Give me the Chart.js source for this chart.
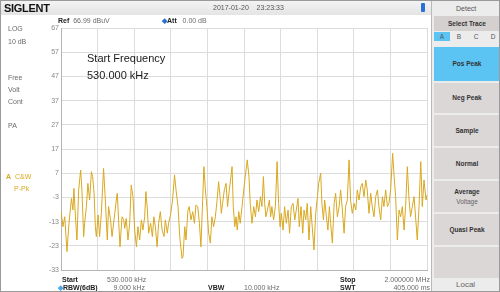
<!DOCTYPE html>
<html>
<head>
<meta charset="utf-8">
<script src="https://cdn.jsdelivr.net/npm/chart.js@4/dist/chart.umd.min.js"></script>
<style>
  body { margin: 0; background: #fff; font-family: "Liberation Sans", Arial, sans-serif; }
  #screen { position: relative; width: 498px; height: 290px; border: 1px solid #9a9a9a; overflow: hidden; background: #fff; }
  #screen canvas { position: absolute; left: -1px; top: -1px; }
  .t { position: absolute; font-size: 7px; color: #6b6b6b; white-space: nowrap; line-height: 8px; }
  .b { font-weight: bold; color: #222; }
  .r { text-align: right; }
  #topbar { position: absolute; left: 0; top: 0; width: 430px; height: 14px; background: linear-gradient(#f3f3f3, #e4e4e4); }
  #logo { position: absolute; left: 3px; top: 1px; font: bold 11px "Liberation Sans", Arial, sans-serif; color: #111; letter-spacing: -0.3px; }
  #usb { position: absolute; left: 420px; top: 2px; width: 4px; height: 9px; background: #2a6fd6; border-radius: 1px; }
  #panel { position: absolute; left: 430px; top: 0; width: 68px; height: 290px; background: #ececec; border-left: 1px solid #b8b8b8; }
  .btn { position: absolute; left: 2px; width: 66px; background: #dcd7d7; font-size: 6.5px; font-weight: bold; color: #333; text-align: center; }
  .cell { position: absolute; top: 31px; width: 16px; height: 9px; font-size: 6.5px; color: #555; text-align: center; line-height: 9px; }
  .big { position: absolute; font-size: 11px; color: #1a1a1a; white-space: nowrap; }
</style>
</head>
<body>
<div id="screen">
  <canvas id="trace" width="500" height="292"></canvas>

  <div id="topbar"></div>
  <div id="logo">SIGLENT</div>
  <div class="t" style="left:212px;top:3px;color:#555;">2017-01-20&nbsp;&nbsp;&nbsp;&nbsp;23:23:33</div>
  <div id="usb"></div>

  <div class="t" style="left:57px;top:16px;"><span class="b">Ref</span>&nbsp; 66.99 dBuV</div>
  <div class="t" style="left:161px;top:16px;"><span class="b" style="color:#2a6fd6">&#9670;</span><span class="b">Att</span>&nbsp;&nbsp; 0.00 dB</div>

  <div class="t" style="left:7px;top:24px;">LOG</div>
  <div class="t" style="left:7px;top:37px;">10 dB</div>
  <div class="t" style="left:7px;top:73px;">Free</div>
  <div class="t" style="left:7px;top:85px;">Volt</div>
  <div class="t" style="left:7px;top:97px;">Cont</div>
  <div class="t" style="left:7px;top:121px;">PA</div>
  <div class="t" style="left:5px;top:172px;color:#d9a81f;"><b>A</b>&nbsp; C&amp;W</div>
  <div class="t" style="left:13px;top:184px;color:#d9a81f;">P-Pk</div>

  <div class="big" style="left:86px;top:51px;">Start Frequency</div>
  <div class="big" style="left:86px;top:68px;">530.000 kHz</div>

  <div class="t b" style="left:61px;top:275px;">Start</div>
  <div class="t" style="left:106px;top:275px;">530.000 kHz</div>
  <div class="t b" style="left:57px;top:283px;"><span style="color:#4aa8e8">&#9670;</span>RBW(6dB)</div>
  <div class="t r" style="left:100px;width:44px;top:283px;">9.000 kHz</div>
  <div class="t b" style="left:207px;top:283px;">VBW</div>
  <div class="t" style="left:243px;top:283px;">10.000 kHz</div>
  <div class="t b" style="left:339px;top:275px;">Stop</div>
  <div class="t r" style="left:370px;width:59px;top:275px;">2.000000 MHz</div>
  <div class="t b" style="left:339px;top:283px;">SWT</div>
  <div class="t r" style="left:370px;width:59px;top:283px;">405.000 ms</div>

  <div id="panel">
    <div class="t" style="left:24px;top:4px;color:#555;">Detect</div>
    <div class="btn" style="top:15px;height:15px;line-height:15px;background:#d4d0d0;">Select Trace</div>
    <div class="cell" style="left:2px;background:#5cc4f2;">A</div>
    <div class="cell" style="left:19px;">B</div>
    <div class="cell" style="left:36px;">C</div>
    <div class="cell" style="left:53px;">D</div>
    <div class="btn" style="top:46px;height:34px;line-height:34px;background:#5cc4f2;">Pos Peak</div>
    <div class="btn" style="top:82px;height:30px;line-height:30px;">Neg Peak</div>
    <div class="btn" style="top:114px;height:31px;line-height:31px;">Sample</div>
    <div class="btn" style="top:147px;height:31px;line-height:31px;">Normal</div>
    <div class="btn" style="top:180px;height:31px;"><div style="margin-top:7px;">Average</div><div style="font-weight:normal;color:#666;margin-top:3px;">Voltage</div></div>
    <div class="btn" style="top:213px;height:31px;line-height:31px;">Quasi Peak</div>
    <div class="btn" style="top:246px;height:31px;"></div>
    <div class="t" style="left:24px;top:279px;font-size:8px;line-height:10px;color:#666;">Local</div>
  </div>
</div>

<script>
// trace values (kHz / dBuV)
const freqKHz = [
  530,538,545,554,562,572,578,582,588,594, 601,609,614,621,625,632,638,645,652,657,
  663,668,672,679,685,692,701,708,716,721, 729,735,746,752,756,762,767,775,782,786,
  792,799,806,812,819,826,833,839,846,853, 859,866,871,877,882,890,897,903,909,916,
  922,929,936,944,949,957,962,970,978,986, 992,1000,1007,1016,
  1020,1027,1032,1040,1045,1052,1059,1066,1072,1079, 1086,1092,1099,1104,1110,1116,1123,1130,1136,1143,
  1150,1157,1163,1169,1174,1179,1186,1193,1199,1206, 1211,1217,1222,1228,1233,1238,1244,1250,1257,1264,
  1270,1278,1285,1290,1297,1304,1311,1317,1324,1331, 1337,1343,1348,1353,1359,1367,1372,1377,1384,1391,
  1398,1404,1410,1415,1422,1428,1435,1442,1448,1455, 1462,1469,1475,1482,1487,1494,1501,1506,
  1513,1519,1526,1533,1539,1546,1553,1560,1565,1573, 1578,1584,1589,1596,1602,1608,1613,1620,1627,1633,
  1640,1647,1653,1660,1667,1673,1680,1687,1693,1700, 1707,1714,1720,1727,1734,1740,1747,1754,1760,1767,
  1774,1780,1787,1794,1801,1807,1814,1821,1827,1834, 1841,1847,1854,1862,1868,1874,1881,1888,1894,1901,
  1908,1914,1921,1928,1934,1941,1948,1955,1961,1968, 1975,1981,1988,1996,2000
];
const levelDbuv = [
  -8.9,-15.1,-11.0,-25.4,-13.7,-3.4,-8.2,0.7,-11.0,-20.6, 0.1,8.3,0.1,-19.2,-13.7,-6.8,2.8,-4.1,7.6,5.6,
  -1.3,-15.1,-19.2,-10.3,-19.2,-9.6,9.0,-4.1,-20.6,-6.8, -12.3,-19.2,-9.6,-4.1,-1.3,-13.7,-23.4,-11.0,-12.3,-15.8,
  -11.7,-20.6,-13.7,2.1,-2.7,-16.5,-23.4,-15.1,-20.6,-12.3, -16.5,-11.0,-0.6,-8.2,-17.8,-13.7,-19.2,-11.0,-15.1,-23.4,
  -13.7,-8.9,-16.5,-19.2,-12.3,-17.8,-13.7,-10.3,-4.1,6.3, 0.1,-6.8,-19.2,-28.2,
  -27.5,-15.1,-20.6,-8.2,-6.8,-12.3,-8.9,-13.7,-6.1,-6.8, -13.7,-23.4,-4.1,9.7,0.1,-6.8,-17.8,-21.9,-11.0,-15.1,
  -11.0,-4.1,3.5,-2.7,-9.6,-5.5,0.1,2.8,-6.8,0.1, 4.2,9.7,-6.8,-15.1,-11.0,-16.5,-8.9,-13.7,-6.8,0.1,
  5.6,12.5,5.6,-5.5,-13.7,-6.8,-11.0,-4.1,-8.9,-2.7, -6.8,5.6,-5.5,-11.0,-8.2,-4.1,-11.0,-6.8,-12.3,-6.8,
  11.8,-5.5,-15.1,-9.6,-16.5,-6.8,-13.7,-8.2,-17.8,-6.8, -5.5,-12.3,-8.2,-3.4,-15.1,-6.8,-17.8,-8.2,
  -12.3,-5.5,-20.6,-6.8,-15.1,-24.7,-9.6,-2.7,2.8,7.0, -5.5,-12.3,-4.1,-11.0,-16.5,-6.8,-13.7,-21.9,-5.5,-1.3,
  -11.0,-6.8,0.1,-8.2,-17.8,-6.8,-4.1,12.5,-4.1,-9.6, -5.5,-8.2,0.1,-4.1,1.4,2.8,-2.7,4.2,0.1,-9.6,
  -1.3,-6.8,-11.0,-2.7,0.1,-6.8,-12.3,-2.7,-6.8,0.1, -6.8,-5.5,0.1,15.2,5.6,-2.7,-20.6,-8.2,-11.0,-6.8,
  -16.5,-6.8,9.7,-4.1,-11.0,-6.8,-2.7,-12.3,-20.6,-6.8, 11.8,-6.8,4.2,-4.1,-2.0
];
const yTicks = [67, 57, 47, 37, 27, 17, 7, -3, -13, -23, -33];
const xTicks = [530, 677, 824, 971, 1118, 1265, 1412, 1559, 1706, 1853, 2000];

const gridColor = '#dcdcdc';

new Chart(document.getElementById('trace'), {
  type: 'line',
  data: {
    datasets: [{
      data: freqKHz.map((f, i) => ({ x: f, y: levelDbuv[i] })),
      borderColor: '#d9a81f',
      borderWidth: 1,
      pointRadius: 0,
      tension: 0
    }]
  },
  options: {
    responsive: false,
    animation: false,
    layout: { padding: { top: 28, right: 73, bottom: 22, left: 0 } },
    plugins: { legend: { display: false }, tooltip: { enabled: false } },
    scales: {
      x: {
        type: 'linear',
        min: xTicks[0],
        max: xTicks[xTicks.length - 1],
        afterBuildTicks: s => { s.ticks = xTicks.map(v => ({ value: v })); },
        afterFit: s => { s.height = 0; },
        ticks: { display: false },
        grid: { color: gridColor, drawTicks: false },
        border: { color: '#b5b5b5' }
      },
      y: {
        min: -33,
        max: 67,
        afterBuildTicks: s => { s.ticks = yTicks.map(v => ({ value: v })); },
        afterFit: s => { s.width = 61; },
        ticks: { color: '#888', padding: 2, font: { size: 7, family: 'Liberation Sans' } },
        grid: { color: gridColor, drawTicks: false },
        border: { color: '#b5b5b5' }
      }
    }
  }
});
</script>
</body>
</html>
